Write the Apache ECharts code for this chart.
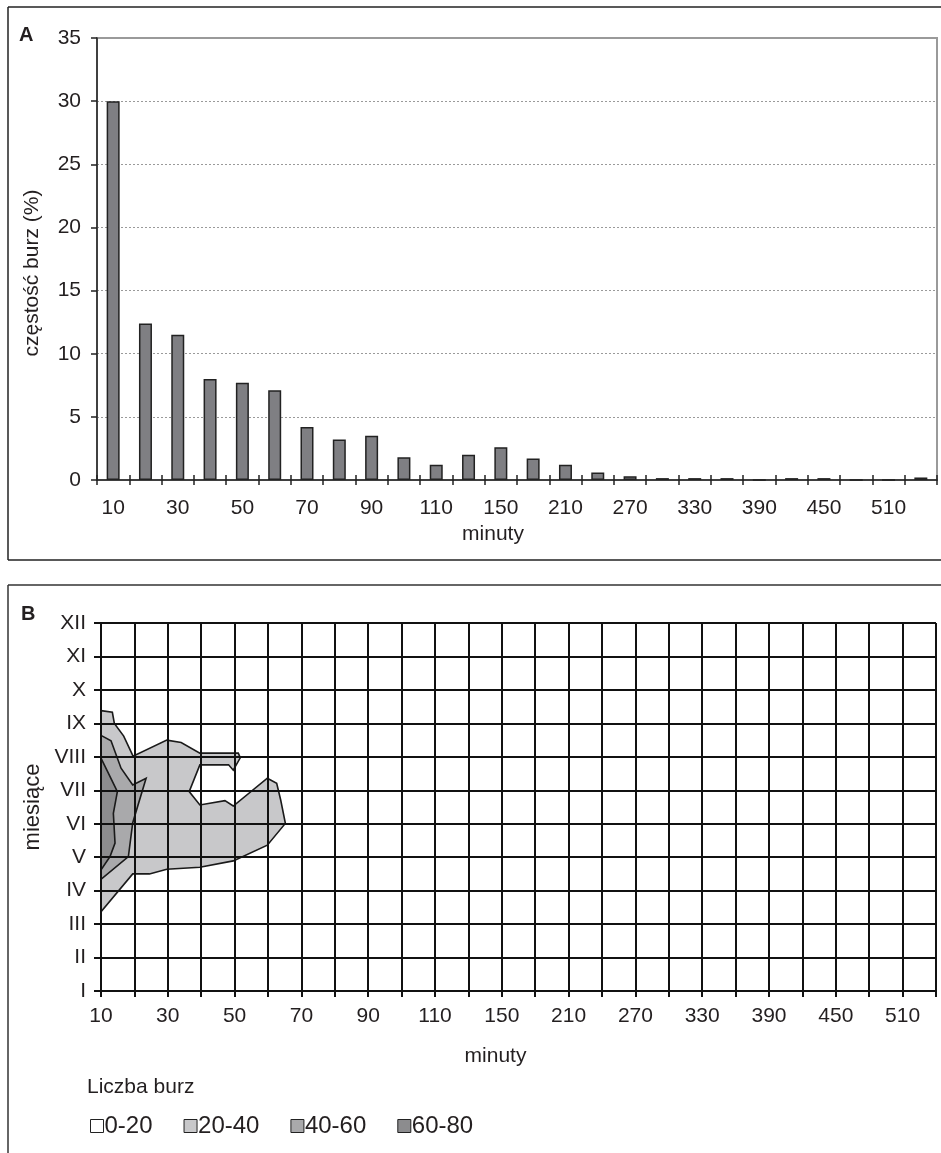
<!DOCTYPE html>
<html>
<head>
<meta charset="utf-8">
<script src="https://cdn.jsdelivr.net/npm/echarts@6/dist/echarts.min.js"></script>
<style>
html,body{margin:0;padding:0;background:#fff;}
#chart{width:941px;height:1153px;}
</style>
</head>
<body>
<div id="chart"></div>
<script>
// ---- data ----
const minutes = ['10','20','30','40','50','60','70','80','90','100','110','120',
  '150','180','210','240','270','300','330','360','390','420','450','480','510','540'];
const freq = [30, 12.4, 11.5, 8.0, 7.7, 7.1, 4.2, 3.2, 3.5, 1.8, 1.2, 2.0,
  2.6, 1.7, 1.2, 0.6, 0.3, 0.15, 0.15, 0.15, 0, 0.15, 0.15, 0, 0, 0.2];
const yTicksA = [0, 5, 10, 15, 20, 25, 30, 35];
const months = ['I','II','III','IV','V','VI','VII','VIII','IX','X','XI','XII'];
const bandNames = ['0-20','20-40','40-60','60-80'];
const bandColors = ['#ffffff','#c8c8ca','#a9a9ab','#8c8c8e'];
// contour polygons: [minute category position, month position]
const band20_40 = [[0,8.38],[0.34,8.33],[0.40,8.0],[0.68,7.62],[0.96,7.02],[1.97,7.5],[2.40,7.43],
  [2.96,7.11],[4.11,7.11],[4.17,6.97],[3.96,6.60],[3.82,6.76],[2.96,6.76],[2.64,5.96],[2.96,5.56],
  [3.71,5.69],[3.96,5.53],[4.98,6.36],[5.26,6.21],[5.38,5.71],[5.52,5.01],[4.98,4.36],[3.96,3.89],
  [2.96,3.70],[1.97,3.64],[1.45,3.50],[0.95,3.50],[0,2.37]];
const band40_60 = [[0,7.64],[0.30,7.48],[0.60,6.66],[0.95,6.16],[1.35,6.36],[0.95,5.03],[0.82,4.02],[0,3.34]];
const band60_80 = [[0,6.96],[0.22,6.51],[0.49,5.96],[0.37,5.31],[0.42,4.42],[0.27,4.02],[0,3.62]];
const bandPolys = [[], band20_40, band40_60, band60_80];

// ---- chart ----
const FONT = "'Liberation Sans', Arial, sans-serif";
const TXT = '#231f20';
const chart = echarts.init(document.getElementById('chart'), null, {renderer: 'canvas'});

function polySeries(i) {
  const pts = bandPolys[i];
  return {
    type: 'custom',
    name: bandNames[i],
    xAxisIndex: 2,
    yAxisIndex: 1,
    coordinateSystem: 'cartesian2d',
    silent: true,
    z: 1 + i,
    itemStyle: {color: bandColors[i], borderColor: '#222', borderWidth: 1},
    data: pts,
    renderItem: function (params, api) {
      if (params.dataIndex !== 0 || !pts.length) return null;
      const points = pts.map(p => api.coord(p));
      return {
        type: 'polygon',
        shape: {points: points},
        style: {fill: bandColors[i], stroke: '#1a1a1a', lineWidth: 1.6}
      };
    }
  };
}

const option = {
  animation: false,
  backgroundColor: '#fff',
  textStyle: {fontFamily: FONT, color: TXT},
  grid: [
    {left: 97, top: 38, width: 840, height: 442, show: true, borderColor: '#9a9a9a', borderWidth: 2, backgroundColor: 'transparent'},
    {left: 101, top: 623, width: 835, height: 368}
  ],
  xAxis: [
    {
      type: 'category', gridIndex: 0, data: minutes,
      axisLine: {lineStyle: {color: '#222', width: 1.5}},
      axisTick: {show: true, interval: 0, length: 5, lineStyle: {color: '#222', width: 1.5}},
      axisLabel: {interval: 1, fontSize: 21, color: TXT, margin: 18, fontFamily: FONT},
      name: 'minuty', nameLocation: 'middle', nameGap: 44,
      nameTextStyle: {fontSize: 21, color: TXT, fontFamily: FONT, padding: [0, 48, 0, 0]},
      splitLine: {show: false}
    },
    {
      type: 'category', gridIndex: 0, data: minutes, position: 'bottom',
      axisLine: {show: false},
      axisTick: {show: true, inside: true, interval: 0, length: 5, lineStyle: {color: '#222', width: 1.5}},
      axisLabel: {show: false}, splitLine: {show: false}
    },
    {
      type: 'value', gridIndex: 1, min: 0, max: minutes.length - 1, interval: 1, z: 10,
      axisLine: {lineStyle: {color: '#111', width: 2}},
      axisTick: {show: true, length: 6, lineStyle: {color: '#111', width: 2}},
      axisLabel: {fontSize: 21, color: TXT, margin: 15, fontFamily: FONT,
        formatter: v => (v % 2 === 0 ? minutes[v] : '')},
      splitLine: {show: true, lineStyle: {color: '#111', width: 2}},
      name: 'minuty', nameLocation: 'middle', nameGap: 55,
      nameTextStyle: {fontSize: 21, color: TXT, fontFamily: FONT, padding: [0, 46, 0, 0]}
    }
  ],
  yAxis: [
    {
      type: 'value', gridIndex: 0, min: yTicksA[0], max: yTicksA[yTicksA.length - 1], interval: 5,
      axisLine: {show: true, lineStyle: {color: '#222', width: 1.5}},
      axisTick: {show: true, length: 6, lineStyle: {color: '#222', width: 1.5}},
      axisLabel: {fontSize: 21, color: TXT, margin: 16, fontFamily: FONT},
      splitLine: {show: true, lineStyle: {color: '#9a9a9a', width: 1, type: [2, 2]}},
      name: 'częstość burz (%)', nameLocation: 'middle', nameRotate: 90, nameGap: 54,
      nameTextStyle: {fontSize: 21, color: TXT, fontFamily: FONT, padding: [0, 28, 0, 0]}
    },
    {
      type: 'value', gridIndex: 1, min: 0, max: months.length - 1, interval: 1, z: 10,
      axisLine: {show: true, lineStyle: {color: '#111', width: 2}},
      axisTick: {show: true, length: 7, lineStyle: {color: '#111', width: 2}},
      axisLabel: {fontSize: 21, color: TXT, margin: 15, fontFamily: FONT, formatter: v => months[v]},
      splitLine: {show: true, lineStyle: {color: '#111', width: 2}},
      name: 'miesiące', nameLocation: 'middle', nameRotate: 90, nameGap: 57,
      nameTextStyle: {fontSize: 22, color: TXT, fontFamily: FONT}
    }
  ],
  legend: {
    data: bandNames,
    left: 85, top: 1109,
    icon: 'rect', itemWidth: 13, itemHeight: 13, itemGap: 31,
    itemStyle: {borderColor: '#222', borderWidth: 1},
    textStyle: {fontSize: 24, color: TXT, fontFamily: FONT, padding: [0, 0, 0, -4]},
    selectedMode: false
  },
  series: [
    {
      type: 'bar', xAxisIndex: 0, yAxisIndex: 0, data: freq, barWidth: 13,
      itemStyle: {color: '#7f7f83', borderColor: '#222', borderWidth: 1.5},
      silent: true
    },
    polySeries(0), polySeries(1), polySeries(2), polySeries(3)
  ],
  graphic: [
    {type: 'line', shape: {x1: 8, y1: 7, x2: 941, y2: 7}, style: {stroke: '#222', lineWidth: 1.5}},
    {type: 'line', shape: {x1: 8, y1: 7, x2: 8, y2: 560}, style: {stroke: '#222', lineWidth: 1.5}},
    {type: 'line', shape: {x1: 8, y1: 560, x2: 941, y2: 560}, style: {stroke: '#222', lineWidth: 1.5}},
    {type: 'line', shape: {x1: 8, y1: 585, x2: 941, y2: 585}, style: {stroke: '#333', lineWidth: 1.5}},
    {type: 'line', shape: {x1: 8, y1: 585, x2: 8, y2: 1153}, style: {stroke: '#333', lineWidth: 1.5}},
    {type: 'text', left: 19, top: 25, style: {text: 'A', font: "bold 20px " + FONT, fill: TXT}},
    {type: 'text', left: 21, top: 604, style: {text: 'B', font: "bold 20px " + FONT, fill: TXT}},
    {type: 'text', left: 87, top: 1077, style: {text: 'Liczba burz', font: "21px " + FONT, fill: TXT}}
  ]
};
chart.setOption(option);
</script>
</body>
</html>
